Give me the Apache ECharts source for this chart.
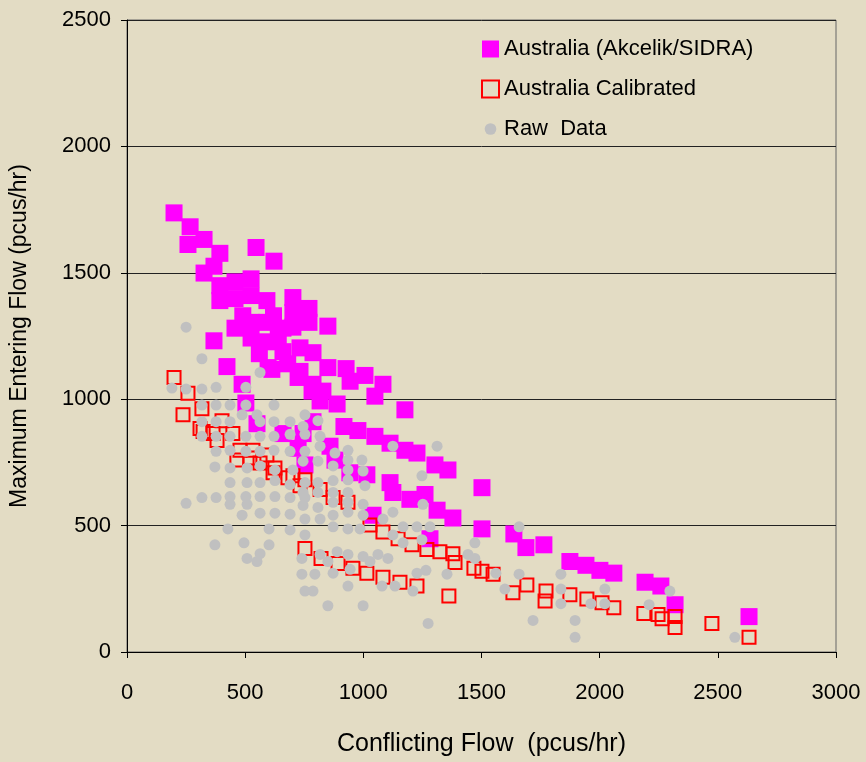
<!DOCTYPE html>
<html>
<head>
<meta charset="utf-8">
<title>Maximum Entering Flow vs Conflicting Flow</title>
<script src="https://cdn.jsdelivr.net/npm/echarts@6/dist/echarts.min.js"></script>
<style>
  html, body { margin: 0; padding: 0; background: #E3DCC4; }
  #main { width: 866px; height: 762px; }
</style>
</head>
<body>
<div id="main"></div>
<script>
// [conflicting flow, max entering flow] in pcus/hr
var australiaSidra = [
  [199,1737],[267,1682],[258,1612],[326,1632],[393,1577],[546,1600],[622,1546],[326,1499],
  [368,1526],[525,1476],[393,1449],[393,1390],[457,1464],[457,1398],[457,1281],[525,1410],
  [525,1304],[525,1242],[592,1390],[592,1304],[592,1227],[702,1402],[702,1343],[702,1285],
  [660,1281],[660,1188],[770,1359],[770,1304],[732,1203],[732,1110],[787,1184],[787,1059],
  [850,1289],[850,1125],[829,1032],[889,981],[927,1121],[944,1071],[1007,1094],[1083,1059],
  [1049,1012],[1176,958],[368,1231],[423,1129],[487,1059],[503,985],[613,1118],[724,1086],
  [783,1032],[817,993],[918,892],[977,876],[1049,853],[1113,826],[1176,798],[1227,787],
  [1303,740],[1358,720],[550,903],[660,864],[859,814],[880,759],[597,1125],[1015,701],
  [1113,670],[1125,631],[1197,604],[1261,623],[1312,561],[1379,530],[1502,650],[1502,487],
  [1637,467],[1282,448],[1688,413],[1764,424],[1874,358],[1942,343],[2001,323],[2060,312],
  [2192,276],[2259,261],[2319,187],[2632,140],[1041,541],[787,911],[943,709],[745,864],
  [724,806],[753,740],[640,1240],[560,1180],[680,1140],[620,1330],[490,1330]
];

var australiaCalibrated = [
  [199,1086],[258,1024],[237,938],[317,962],[402,915],[322,872],[364,864],[448,864],
  [381,837],[478,798],[465,759],[533,798],[563,748],[618,709],[702,697],[753,681],
  [681,689],[817,643],[872,611],[935,592],[1028,502],[1083,475],[1147,448],[1206,424],
  [1269,405],[1324,397],[1379,389],[1388,354],[1468,331],[1502,319],[1549,308],[753,409],
  [821,370],[893,350],[956,331],[1015,312],[1083,296],[1155,276],[1227,261],[1362,222],
  [1633,234],[1692,265],[1773,241],[1769,202],[1874,226],[1946,210],[2010,195],[2060,175],
  [2187,152],[2247,148],[2264,132],[2319,140],[2319,97],[2475,113],[2632,58],[309,884],
  [520,767],[626,728],[592,779],[732,658]
];

var rawData = [
  [250,1285],[317,1160],[563,1106],[190,1044],[250,1040],[317,1040],[377,1047],[503,1047],
  [317,977],[377,977],[436,977],[503,977],[622,977],[487,938],[550,938],[753,938],
  [808,915],[317,911],[377,911],[436,911],[563,911],[622,911],[690,911],[745,892],
  [317,853],[377,853],[436,853],[503,853],[563,853],[622,853],[690,861],[753,861],
  [817,853],[817,814],[880,787],[935,798],[1125,814],[1312,814],[377,794],[436,798],
  [503,794],[563,794],[622,798],[690,794],[753,794],[935,759],[994,759],[745,755],
  [808,755],[872,736],[935,720],[999,716],[372,732],[436,728],[508,728],[563,736],
  [626,720],[702,720],[436,670],[508,670],[563,670],[626,678],[690,662],[753,670],
  [808,670],[872,678],[935,681],[1007,658],[1248,697],[745,631],[808,631],[872,631],
  [935,631],[250,588],[317,611],[377,611],[436,615],[503,615],[563,615],[626,615],
  [690,611],[753,611],[872,592],[935,592],[999,584],[745,580],[808,572],[1252,584],
  [436,584],[508,584],[487,541],[563,549],[626,549],[690,545],[753,526],[817,526],
  [872,541],[935,553],[999,541],[1125,553],[1083,526],[427,487],[601,487],[690,483],
  [753,463],[872,495],[935,487],[986,487],[1168,495],[1227,495],[1282,495],[1659,495],
  [1125,463],[1168,432],[1248,444],[1472,432],[372,424],[495,432],[601,424],[563,389],
  [508,370],[550,358],[740,370],[817,386],[889,397],[935,386],[850,358],[999,378],
  [1028,358],[1062,386],[1104,370],[1443,386],[1472,370],[740,308],[795,308],[872,312],
  [944,327],[1227,312],[1265,323],[1354,308],[1561,312],[1659,308],[1836,308],[935,261],
  [1079,261],[1134,261],[753,241],[787,241],[1210,241],[1599,249],[1836,249],[2022,249],
  [2297,241],[850,183],[999,183],[1836,191],[1963,191],[2022,191],[2209,187],[1274,113],
  [1718,125],[1896,125],[1896,58],[2572,58]
];

var seriesNames = ['Australia (Akcelik/SIDRA)', 'Australia Calibrated', 'Raw  Data'];

var font = 'Liberation Sans, Arial, sans-serif';
// small dot inside a 16x16 box so the legend circle stays smaller than the squares
var smallDot = 'path://M0,0L0,0M16,16L16,16M2.5,8A5.5,5.5,0,1,1,13.5,8A5.5,5.5,0,1,1,2.5,8Z';

var chart = echarts.init(document.getElementById('main'));

chart.setOption({
  animation: false,
  backgroundColor: '#E3DCC4',
  textStyle: { fontFamily: font, color: '#000' },
  grid: {
    left: 127, right: 30, top: 20, bottom: 100,
    show: true,
    borderColor: '#666',
    borderWidth: 1
  },
  legend: {
    orient: 'vertical',
    left: 476,
    top: 33,
    itemWidth: 17,
    itemHeight: 17,
    itemGap: 18,
    textStyle: { fontSize: 22, fontFamily: font, color: '#000' },
    data: [
      { name: seriesNames[0] },
      { name: seriesNames[1] },
      { name: seriesNames[2], icon: smallDot }
    ]
  },
  xAxis: {
    type: 'value',
    min: 0, max: 3000, interval: 500,
    name: 'Conflicting Flow  (pcus/hr)',
    nameLocation: 'middle',
    nameGap: 80,
    nameTextStyle: { fontSize: 25, color: '#000' },
    axisLine: { lineStyle: { color: '#000', width: 1 } },
    axisTick: { show: true, length: 6, lineStyle: { color: '#000' } },
    axisLabel: { fontSize: 22, color: '#000', margin: 30, formatter: function (v) { return String(v); } },
    splitLine: { show: false }
  },
  yAxis: {
    type: 'value',
    min: 0, max: 2500, interval: 500,
    name: 'Maximum Entering Flow (pcus/hr)',
    nameLocation: 'middle',
    nameGap: 96,
    nameTextStyle: { fontSize: 23, color: '#000' },
    axisLine: { show: true, lineStyle: { color: '#000', width: 1 } },
    axisTick: { show: true, length: 6, lineStyle: { color: '#000' } },
    axisLabel: { fontSize: 22, color: '#000', margin: 16, formatter: function (v) { return String(v); } },
    splitLine: { show: true, lineStyle: { color: '#222', width: 1 } }
  },
  series: [
    {
      name: seriesNames[0],
      type: 'scatter',
      symbol: 'rect',
      symbolSize: 17,
      itemStyle: { color: '#FF00FF', opacity: 1 },
      data: australiaSidra
    },
    {
      name: seriesNames[1],
      type: 'scatter',
      symbol: 'rect',
      symbolSize: 13,
      itemStyle: { color: 'rgba(0,0,0,0)', borderColor: '#FF0000', borderWidth: 2, opacity: 1 },
      data: australiaCalibrated
    },
    {
      name: seriesNames[2],
      type: 'scatter',
      symbol: 'circle',
      symbolSize: 11,
      itemStyle: { color: '#C0C0C0', opacity: 1 },
      data: rawData
    }
  ]
});
</script>
</body>
</html>
